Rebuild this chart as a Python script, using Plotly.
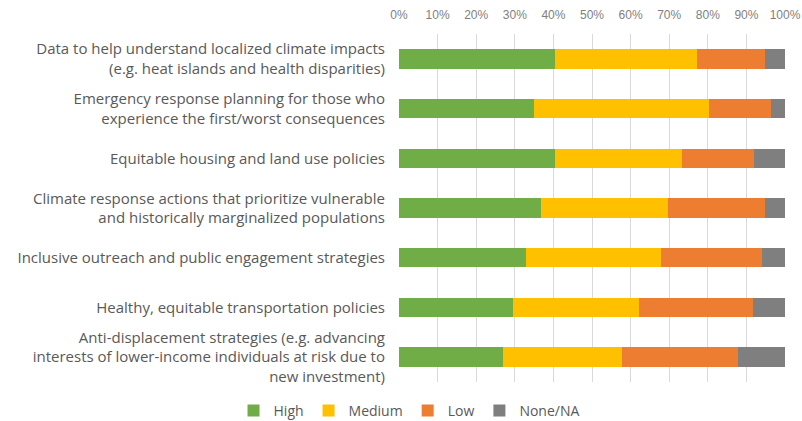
import plotly.graph_objects as go

# Survey items (top to bottom)
categories = [
    "Data to help understand localized climate impacts<br>(e.g. heat islands and health disparities)",
    "Emergency response planning for those who<br>experience the first/worst consequences",
    "Equitable housing and land use policies",
    "Climate response actions that prioritize vulnerable<br>and historically marginalized populations",
    "Inclusive outreach and public engagement strategies",
    "Healthy, equitable transportation policies",
    "Anti-displacement strategies (e.g. advancing<br>interests of lower-income individuals at risk due to<br>new investment)",
]

# Share of responses (%) per priority level
high = [40.4, 35.0, 40.5, 36.7, 32.8, 29.6, 27.0]
medium = [36.8, 45.3, 32.7, 33.1, 35.1, 32.5, 30.8]
low = [17.7, 16.1, 18.8, 25.1, 26.1, 29.7, 30.1]
none_na = [5.1, 3.6, 8.0, 5.1, 6.0, 8.2, 12.1]

tick_vals = [0, 10, 20, 30, 40, 50, 60, 70, 80, 90, 100]
tick_text = ["0%", "10%", "20%", "30%", "40%", "50%", "60%", "70%", "80%", "90%", "100%"]

series = [
    ("High", high, "#70AD47"),
    ("Medium", medium, "#FFC000"),
    ("Low", low, "#ED7D31"),
    ("None/NA", none_na, "#7F7F7F"),
]

fig = go.Figure()
for name, vals, color in series:
    fig.add_trace(go.Bar(
        y=categories, x=vals, name=name, orientation="h",
        marker=dict(color=color, line=dict(width=0)),
    ))

fig.update_layout(
    barmode="stack",
    bargap=0.61,
    width=802, height=421,
    margin=dict(l=399, r=17, t=34, b=39),
    plot_bgcolor="white",
    paper_bgcolor="white",
    font=dict(family="Open Sans, sans-serif", size=15, color="#595959"),
    legend=dict(
        orientation="h",
        xref="container", yref="container",
        x=0.51, xanchor="center",
        y=0.024, yanchor="middle",
        font=dict(size=14, color="#595959"),
        itemwidth=30,
        traceorder="normal",
    ),
    xaxis=dict(
        side="top",
        range=[0, 100],
        automargin=False,
        tickvals=tick_vals,
        ticktext=tick_text,
        ticks="outside",
        ticklen=9,
        tickcolor="rgba(0,0,0,0)",
        showgrid=True,
        gridcolor="#D9D9D9",
        gridwidth=1,
        zeroline=False,
        showline=False,
        tickfont=dict(family="Liberation Sans, Arial, sans-serif", size=12, color="#7F7F7F"),
    ),
    yaxis=dict(
        categoryorder="array",
        categoryarray=categories,
        autorange="reversed",
        automargin=False,
        showgrid=False,
        zeroline=False,
        ticks="outside",
        ticklen=10,
        tickcolor="rgba(0,0,0,0)",
        tickfont=dict(size=15, color="#595959"),
    ),
)

fig.write_html("out.html")
